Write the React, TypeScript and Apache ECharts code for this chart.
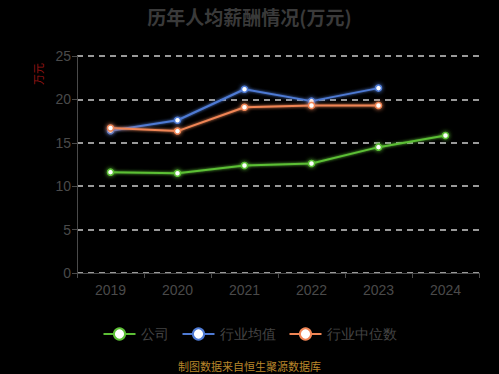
import React, { useEffect, useRef } from "react";
import * as echarts from "echarts";

const years = ["2019", "2020", "2021", "2022", "2023", "2024"];
const company = [11.62, 11.5, 12.39, 12.62, 14.5, 15.84];
const industryAvg = [16.4, 17.6, 21.17, 19.8, 21.3, null];
const industryMedian = [16.7, 16.35, 19.1, 19.3, 19.3, null];

const App: React.FC = () => {
  const ref = useRef<HTMLDivElement>(null);
  useEffect(() => {
    if (!ref.current) return;
    const chart = echarts.init(ref.current, undefined, { renderer: "svg" });
    const mk = (name: string, data: any[], color: string) => ({
      name,
      type: "line",
      data,
      symbol: "circle",
      symbolSize: 6,
      showSymbol: true,
      lineStyle: { color, width: 2, shadowColor: color, shadowBlur: 3 },
      itemStyle: { color: "#ffffff", borderColor: color, borderWidth: 1.5, shadowColor: color, shadowBlur: 4 },
    });
    chart.setOption({
      animation: false,
      backgroundColor: "#000000",
      title: {
        text: "历年人均薪酬情况(万元)",
        left: "center",
        top: 2,
        textStyle: { color: "#3a3a3a", fontSize: 19, fontWeight: "bold", fontFamily: "Noto Sans CJK SC" },
      },
      grid: { left: 77, right: 20, top: 56, bottom: 101 },
      xAxis: {
        type: "category",
        data: years,
        axisLine: { lineStyle: { color: "#4a4a4a" } },
        axisTick: { show: true, lineStyle: { color: "#4a4a4a" } },
        axisLabel: { color: "#4a4a4a", fontSize: 14, margin: 10 },
      },
      yAxis: {
        type: "value",
        min: 0,
        max: 25,
        interval: 5,
        axisLine: { show: true, lineStyle: { color: "#4a4a4a" } },
        axisTick: { show: true, lineStyle: { color: "#4a4a4a" } },
        axisLabel: { color: "#4a4a4a", fontSize: 14, margin: 6 },
        splitLine: { lineStyle: { color: "#cccccc", type: [6, 5], width: 1.5 } },
      },
      legend: {
        bottom: 28,
        left: "center",
        itemWidth: 32,
        itemHeight: 14,
        itemGap: 13,
        textStyle: { color: "#444444", fontSize: 14 },
        data: ["公司", "行业均值", "行业中位数"],
      },
      graphic: [
        {
          type: "text",
          x: 32,
          y: 85,
          rotation: Math.PI / 2,
          style: { text: "万元", fill: "#9b1515", fontSize: 11, fontFamily: "Noto Sans CJK SC" },
        },
        {
          type: "text",
          left: "center",
          top: 360,
          style: { text: "制图数据来自恒生聚源数据库", fill: "#b8862b", fontSize: 11, fontFamily: "Noto Sans CJK SC" },
        },
      ],
      series: [
        mk("公司", company, "#5cbf35"),
        mk("行业均值", industryAvg, "#4e7ad4"),
        mk("行业中位数", industryMedian, "#f08555"),
      ],
    });
    return () => chart.dispose();
  }, []);
  return <div ref={ref} style={{ width: 499, height: 374, position: "absolute", left: 0, top: 0 }} />;
};

export default App;
